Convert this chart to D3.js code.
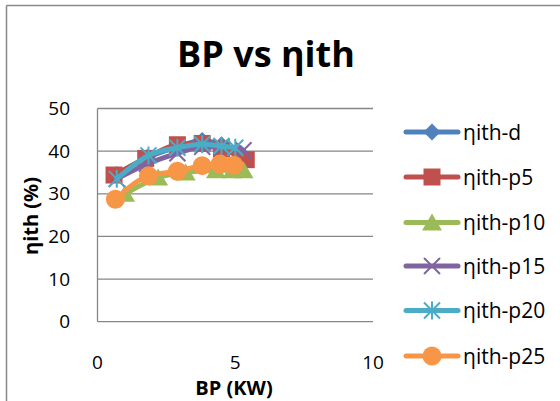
<!DOCTYPE html>
<html>
<head>
<meta charset="utf-8">
<script src="https://cdn.jsdelivr.net/npm/d3@7"></script>
<style>
  body { margin: 0; background: #fff; }
  svg text { font-family: "Open Sans", Lato, sans-serif; fill: #000; }
</style>
</head>
<body>
<div id="chart"></div>
<script>
// series names, colours, x (BP) and y (efficiency) values
const names = ["ηith-d", "ηith-p5", "ηith-p10", "ηith-p15", "ηith-p20", "ηith-p25"];
const colors = ["#4F81BD", "#C0504D", "#9BBB59", "#8064A2", "#4BACC6", "#F79646"];
const symbols = ["diamond", "square", "triangle", "cross", "star", "circle"];

const bpD = [0.7, 1.8, 2.9, 3.8, 4.5, 5.2];
const effD = [34.5, 38.5, 41, 42.5, 41.5, 39.5];
const bpP5 = [0.6, 1.75, 2.9, 3.8, 4.5, 5.4];
const effP5 = [34.4, 38.3, 41.5, 41.8, 40.5, 38];
const bpP10 = [1.0, 2.2, 3.2, 4.3, 4.9, 5.3];
const effP10 = [30, 33.8, 35, 35.5, 35.5, 35.5];
const bpP15 = [0.7, 1.8, 2.9, 3.8, 4.5, 5.3];
const effP15 = [33.5, 37, 39.5, 41, 41, 40.2];
const bpP20 = [0.7, 1.85, 2.9, 3.8, 4.5, 5.0];
const effP20 = [33.5, 39, 40.8, 41.6, 41.2, 40.8];
const bpP25 = [0.65, 1.85, 2.9, 3.8, 4.45, 4.95];
const effP25 = [28.7, 34.2, 35.3, 36.6, 37, 36.7];

const xTicks = [0, 5, 10];
const yTicks = [0, 10, 20, 30, 40, 50];

const xs = [bpD, bpP5, bpP10, bpP15, bpP20, bpP25];
const ys = [effD, effP5, effP10, effP15, effP20, effP25];
const series = names.map((n, i) => ({
  name: n, color: colors[i], sym: symbols[i],
  pts: xs[i].map((x, j) => ({ x: x, y: ys[i][j] }))
}));

const W = 560, H = 401;
const svg = d3.select("#chart").append("svg")
  .attr("width", W).attr("height", H);

// chart frame (top & left visible)
svg.append("line").attr("x1", 6.5).attr("x2", W).attr("y1", 5.5).attr("y2", 5.5)
  .attr("stroke", "#888").attr("stroke-width", 1.5);
svg.append("line").attr("x1", 6.5).attr("x2", 6.5).attr("y1", 5.5).attr("y2", H)
  .attr("stroke", "#888").attr("stroke-width", 1.5);

const x = d3.scaleLinear().domain([0, 10]).range([97.5, 373]);
const y = d3.scaleLinear().domain([0, 50]).range([321.7, 108.5]);

// gridlines
svg.append("g").selectAll("line").data(yTicks).join("line")
  .attr("x1", x(0)).attr("x2", x(10))
  .attr("y1", d => y(d)).attr("y2", d => y(d))
  .attr("stroke", "#868686").attr("stroke-width", 1.3);

svg.append("line").attr("x1", x(0)).attr("x2", x(0))
  .attr("y1", y(0)).attr("y2", y(50))
  .attr("stroke", "#868686").attr("stroke-width", 1.3);

// y tick labels
svg.append("g").selectAll("text").data(yTicks).join("text")
  .attr("x", 70).attr("y", d => y(d)).attr("dy", "0.35em")
  .attr("text-anchor", "end").attr("font-size", 19).text(d => d);

// x tick labels
svg.append("g").selectAll("text").data(xTicks).join("text")
  .attr("x", d => x(d)).attr("y", 369)
  .attr("text-anchor", "middle").attr("font-size", 19).text(d => d);

// titles
svg.append("text").attr("x", 266).attr("y", 67).attr("text-anchor", "middle")
  .attr("font-size", 36).attr("font-weight", "bold").text("BP vs ηith");
svg.append("text").attr("x", 234).attr("y", 395).attr("text-anchor", "middle")
  .attr("font-size", 20).attr("font-weight", "bold").text("BP (KW)");
svg.append("text").attr("transform", "translate(38,216) rotate(-90)")
  .attr("text-anchor", "middle")
  .attr("font-size", 20).attr("font-weight", "bold").text("ηith (%)");

function drawMarker(g, s) {
  let d, stroke = false;
  if (s.sym === "diamond") d = "M0,-8.5L8.5,0L0,8.5L-8.5,0Z";
  else if (s.sym === "square") d = "M-8.5,-8.5H8.5V8.5H-8.5Z";
  else if (s.sym === "triangle") d = "M0,-9L10,8H-10Z";
  else if (s.sym === "circle") d = "M-9.5,0A9.5,9.5 0 1,0 9.5,0A9.5,9.5 0 1,0 -9.5,0Z";
  else if (s.sym === "cross") { d = "M-8,-8L8,8M-8,8L8,-8"; stroke = true; }
  else { d = "M-8,-8L8,8M-8,8L8,-8M0,-9L0,9"; stroke = true; }
  const p = g.append("path").attr("d", d);
  if (stroke) p.attr("fill", "none").attr("stroke", s.color).attr("stroke-width", 2);
  else p.attr("fill", s.color);
}

const line = d3.line().x(d => x(d.x)).y(d => y(d.y)).curve(d3.curveMonotoneX);

series.forEach(s => {
  const g = svg.append("g");
  g.append("path").datum(s.pts).attr("d", line)
    .attr("fill", "none").attr("stroke", s.color).attr("stroke-width", 5)
    .attr("stroke-linecap", "round");
  s.pts.forEach(p => {
    const m = g.append("g").attr("transform", `translate(${x(p.x)},${y(p.y)})`);
    drawMarker(m, s);
  });
});

// legend
const legY = [132, 177, 222.5, 266, 310.5, 356];
series.forEach((s, i) => {
  const g = svg.append("g").attr("transform", `translate(0,${legY[i]})`);
  g.append("line").attr("x1", 406).attr("x2", 458).attr("stroke", s.color)
    .attr("stroke-width", 5).attr("stroke-linecap", "round");
  const m = g.append("g").attr("transform", "translate(432,0)");
  drawMarker(m, s);
  g.append("text").attr("x", 463).attr("dy", "0.36em").attr("font-size", 21).text(s.name);
});
</script>
</body>
</html>
